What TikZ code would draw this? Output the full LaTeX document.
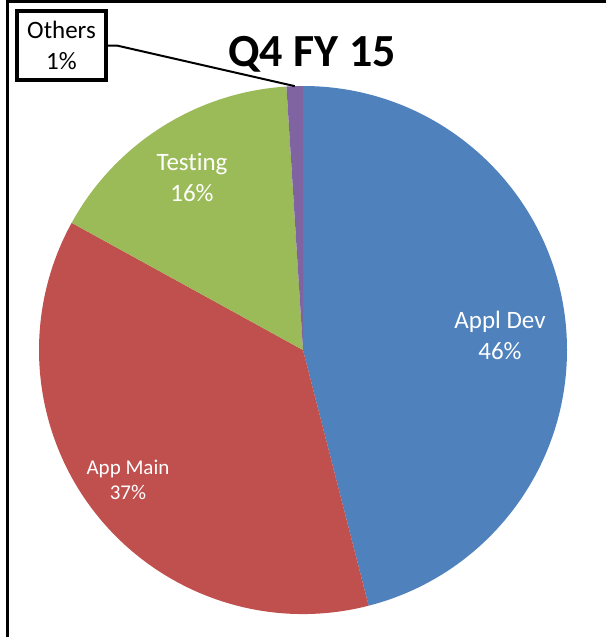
\documentclass[tikz,border=0pt]{standalone}
\usepackage{fontspec}
\setmainfont{Carlito}[Ligatures=NoCommon]
\usepackage{tikz}
\usetikzlibrary{calc}

\definecolor{appldevblue}{HTML}{4F81BD}
\definecolor{appmainred}{HTML}{C0504D}
\definecolor{testinggreen}{HTML}{9BBB59}
\definecolor{otherspurple}{HTML}{8064A2}

\tikzset{slicelabel/.style={text=white,align=center,inner sep=0pt,font=\fontsize{25}{31}\selectfont}}

\begin{document}
\begin{tikzpicture}[x=1pt,y=1pt]
\useasboundingbox (0,0) rectangle (606,-637);
\draw[line width=2.5pt] (7.5,-637) -- (7.5,-1.5) -- (606,-1.5);

\coordinate (c) at (303,-350);
\fill[appldevblue] (c) -- ++(90:264pt) arc[start angle=90,end angle=-75.6,radius=264pt] -- cycle;
\fill[appmainred] (c) -- ++(-75.6:264pt) arc[start angle=-75.6,end angle=-208.8,radius=264pt] -- cycle;
\fill[testinggreen] (c) -- ++(151.2:264pt) arc[start angle=151.2,end angle=93.6,radius=264pt] -- cycle;
\fill[otherspurple] (c) -- ++(93.6:264pt) arc[start angle=93.6,end angle=90,radius=264pt] -- cycle;

\node[anchor=base,font=\bfseries\fontsize{46}{50}\selectfont,inner sep=0pt] (title) at (312,-66) {Q4 FY 15};

\node[slicelabel] (appldev) at (500,-335) {Appl Dev\\46\%};
\node[slicelabel,font=\fontsize{21}{25}\selectfont] (appmain) at (128,-480) {App Main\\37\%};
\node[slicelabel] (testing) at (192,-178) {Testing\\16\%};

\node[draw,line width=3.5pt,minimum width=89pt,minimum height=69pt,align=center,inner sep=0pt,font=\fontsize{25}{31}\selectfont] (others) at (61.5,-45.5) {Others\\1\%};
\coordinate (otherstip) at ($(c)+(91.8:264pt)$);
\draw[line width=2pt] (others.east) -- ++(9,0) -- (otherstip);

\end{tikzpicture}
\end{document}
